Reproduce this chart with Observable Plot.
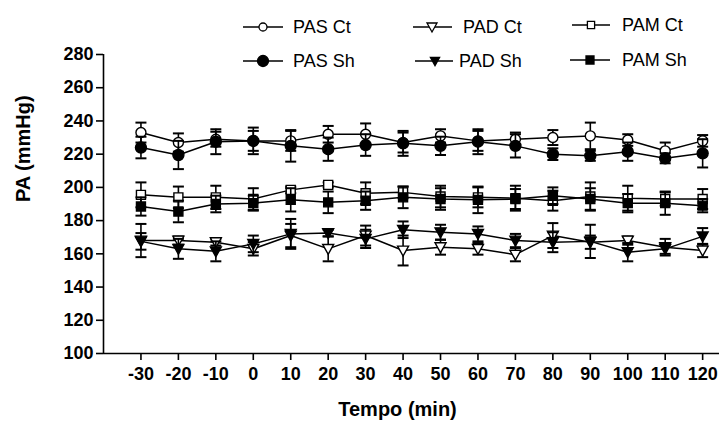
<!DOCTYPE html>
<html>
<head>
<meta charset="utf-8">
<script src="https://cdn.jsdelivr.net/npm/d3@7"></script>
<script src="https://cdn.jsdelivr.net/npm/@observablehq/plot@0.6"></script>
<style>
  html, body { margin: 0; padding: 0; background: white; }
  #wrap { position: relative; width: 719px; height: 426px; }
  #legend { position: absolute; left: 0; top: 0; pointer-events: none; }
</style>
</head>
<body>
<div id="wrap"></div>
<script>
// ---- data ----
const times = [-30, -20, -10, 0, 10, 20, 30, 40, 50, 60, 70, 80, 90, 100, 110, 120];
const xTickLabels = ["-30", "-20", "-10", "0", "10", "20", "30", "40", "50", "60", "70", "80", "90", "100", "110", "120"];
const yTicks = [100, 120, 140, 160, 180, 200, 220, 240, 260, 280];

const pasCt    = [233, 227, 229, 228, 228, 232, 232, 227, 231, 228, 229, 230, 231, 228.5, 222, 228];
const pasCtErr = [6, 5.5, 4.5, 6, 6, 5, 6.5, 6, 4, 6, 4, 4.5, 8, 3.5, 5, 3.5];
const pasSh    = [224, 219.5, 227.5, 228, 225, 223, 225.5, 226.5, 225, 227.5, 225, 220, 219, 221.5, 217.5, 220.5];
const pasShErr = [6.5, 8.5, 7.5, 8, 9.5, 7, 6.5, 7.5, 5.5, 7.5, 7, 3.5, 3, 5.5, 3, 8.5];

const padCt    = [168, 168, 167, 163, 171, 163, 171, 162, 164, 163, 159.5, 171, 167, 168, 164, 162];
const padCtErr = [10, 2.5, 2, 4, 7, 7.5, 6, 9, 4.5, 3.5, 4, 7.5, 4, 2.5, 5, 4];
const padSh    = [167.5, 163, 161.5, 166, 172, 172.5, 169, 174.5, 173, 172, 168, 167, 167.5, 161, 163, 170.5];
const padShErr = [5, 6, 6, 5, 9, 2, 5.5, 5, 4.5, 4.5, 4, 6, 10, 5.5, 3, 5];

const pamCt    = [195.5, 194, 194, 193, 198.5, 201.5, 196.5, 197, 194.5, 194, 193.5, 192, 194.5, 193.5, 193, 193];
const pamCtErr = [7.5, 6.5, 7, 6.5, 2, 1.5, 6.5, 3.5, 6.5, 6, 7.5, 6, 8.5, 7.5, 4, 6];
const pamSh    = [188.5, 185.5, 190, 190.5, 192.5, 191, 192, 194, 193, 192.5, 193, 195, 193, 190.5, 190.5, 189];
const pamShErr = [5.5, 6.5, 5, 4.5, 7, 6.5, 5.5, 6.5, 6.5, 8, 6, 5, 6.5, 5.5, 7, 4];

const seriesNames = ["PAS Ct", "PAD Ct", "PAM Ct", "PAS Sh", "PAD Sh", "PAM Sh"];
const xTitle = "Tempo (min)";
const yTitle = "PA (mmHg)";

// ---- symbols ----
const hline = {draw(ctx, size) { const r = Math.sqrt(size / Math.PI); ctx.moveTo(-r, 0); ctx.lineTo(r, 0); }};
const triDown = {draw(ctx, size) { const r = Math.sqrt(size / Math.PI); ctx.moveTo(-r, -r * 0.8); ctx.lineTo(r, -r * 0.8); ctx.lineTo(0, r); ctx.closePath(); }};
const sq = {draw(ctx, size) { const r = Math.sqrt(size / Math.PI); ctx.rect(-r, -r, 2 * r, 2 * r); }};
const circ = {draw(ctx, size) { const r = Math.sqrt(size / Math.PI); ctx.moveTo(r, 0); ctx.arc(0, 0, r, 0, 2 * Math.PI); }};

const series = [
  {name: seriesNames[0], values: pasCt, err: pasCtErr, symbol: circ, r: 5, filled: false},
  {name: seriesNames[1], values: padCt, err: padCtErr, symbol: triDown, r: 5.5, filled: false},
  {name: seriesNames[2], values: pamCt, err: pamCtErr, symbol: sq, r: 4.5, filled: false},
  {name: seriesNames[3], values: pasSh, err: pasShErr, symbol: circ, r: 5.5, filled: true},
  {name: seriesNames[4], values: padSh, err: padShErr, symbol: triDown, r: 5.5, filled: true},
  {name: seriesNames[5], values: pamSh, err: pamShErr, symbol: sq, r: 4.5, filled: true}
];

const font = "'Liberation Sans', Arial, Helvetica, sans-serif";
const xDomain = [-40, 124.5];

const marks = [];
for (const s of series) {
  const data = times.map((t, i) => ({t, v: s.values[i], e: s.err[i]}));
  marks.push(Plot.line(data, {x: "t", y: "v", stroke: "black", strokeWidth: 1.5}));
  marks.push(Plot.ruleX(data, {x: "t", y1: d => d.v - d.e, y2: d => d.v + d.e, stroke: "black", strokeWidth: 1.6}));
  marks.push(Plot.dot(data, {x: "t", y: d => d.v + d.e, symbol: hline, r: 5.5, stroke: "black", strokeWidth: 2, fill: "none"}));
  marks.push(Plot.dot(data, {x: "t", y: d => d.v - d.e, symbol: hline, r: 5.5, stroke: "black", strokeWidth: 2, fill: "none"}));
  marks.push(Plot.dot(data, {x: "t", y: "v", symbol: s.symbol, r: s.r, fill: s.filled ? "black" : "white", stroke: "black", strokeWidth: 1.4}));
}

const chart = Plot.plot({
  width: 719,
  height: 426,
  marginLeft: 103,
  marginRight: 0,
  marginTop: 54,
  marginBottom: 73,
  style: {fontFamily: font, color: "black", background: "white", overflow: "visible"},
  x: {domain: xDomain},
  y: {domain: [100, 280]},
  marks: [
    Plot.axisY({ticks: yTicks, tickSize: 7, tickPadding: 3, fontSize: 18, fontWeight: "bold", label: null, strokeWidth: 1.6, tickFormat: d => String(d)}),
    Plot.axisX({ticks: times, tickSize: 7, tickPadding: 7, fontSize: 18, fontWeight: "bold", label: null, strokeWidth: 1.6, tickFormat: d => xTickLabels[times.indexOf(d)]}),
    Plot.ruleX([xDomain[0]], {stroke: "black", strokeWidth: 1.6}),
    Plot.ruleY([100], {stroke: "black", strokeWidth: 1.6}),
    ...marks,
    Plot.text([xTitle], {text: d => d, frameAnchor: "bottom", dy: 62, dx: -14, fontSize: 20, fontWeight: "bold"}),
    Plot.text([yTitle], {text: d => d, frameAnchor: "left", rotate: -90, dx: -80, dy: -2, fontSize: 20, fontWeight: "bold"})
  ]
});

const wrap = document.getElementById("wrap");
wrap.appendChild(chart);

// ---- legend overlay ----
const legendPos = [
  {x0: 243, x1: 283, sx: 263, tx: 293, y: 27},
  {x0: 413, x1: 452, sx: 432, tx: 463, y: 27},
  {x0: 572, x1: 610, sx: 591, tx: 622, y: 25},
  {x0: 243, x1: 283, sx: 263, tx: 293, y: 61},
  {x0: 415, x1: 453, sx: 435, tx: 459, y: 61},
  {x0: 570, x1: 610, sx: 590, tx: 622, y: 60}
];
const legendR = [4, 5, 3.6, 5.5, 4.6, 4];
const lg = d3.create("svg").attr("id", "legend").attr("width", 719).attr("height", 80);
series.forEach((s, i) => {
  const p = legendPos[i];
  lg.append("line").attr("x1", p.x0).attr("x2", p.x1).attr("y1", p.y).attr("y2", p.y)
    .attr("stroke", "black").attr("stroke-width", 1.5);
  const r = legendR[i];
  lg.append("path").attr("transform", `translate(${p.sx},${p.y})`)
    .attr("d", d3.symbol(s.symbol, Math.PI * r * r)())
    .attr("fill", s.filled ? "black" : "white").attr("stroke", "black").attr("stroke-width", 1.3);
  lg.append("text").attr("x", p.tx).attr("y", p.y).attr("dy", "0.35em")
    .attr("font-family", font).attr("font-size", 18).attr("fill", "black")
    .text(s.name);
});
wrap.appendChild(lg.node());
</script>
</body>
</html>
